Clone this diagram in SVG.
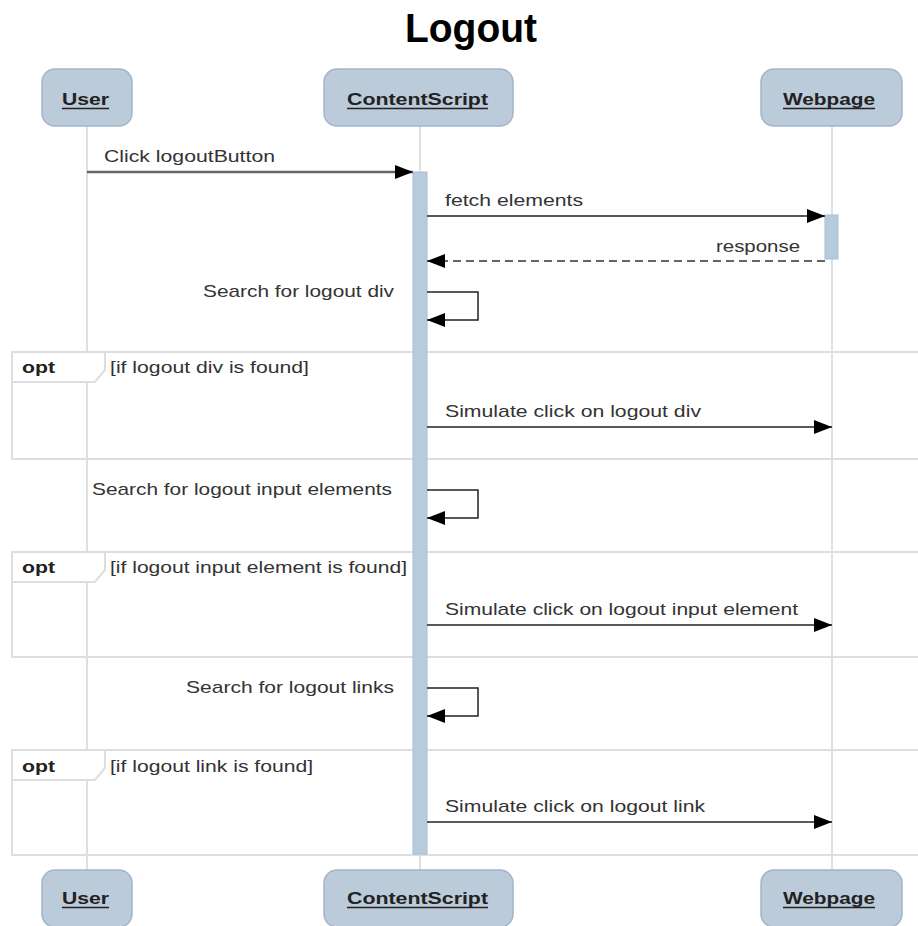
<svg xmlns="http://www.w3.org/2000/svg" width="918" height="926" viewBox="0 0 918 926">
<style>
  .bg { fill: #ffffff; }
  .title { font-family: "Liberation Sans", Arial, sans-serif; font-size: 40px; font-weight: bold; fill: #000; }
  .actor rect { fill: #bccbd9; stroke: #a3b4cc; stroke-width: 1.5; }
  .alabel { font-family: "Liberation Sans", Arial, sans-serif; font-size: 17px; font-weight: bold; fill: #222; }
  .uline { stroke: #222; stroke-width: 1.5; }
  .life { stroke: #e0e0e0; stroke-width: 2; fill: none; }
  .act { fill: #b8cbdc; stroke: #a9bed2; stroke-width: 1; }
  .frame { fill: none; stroke: #dedede; stroke-width: 2; }
  .tab { fill: #ffffff; stroke: #dedede; stroke-width: 2; }
  .optl { font-family: "Liberation Sans", Arial, sans-serif; font-size: 17px; font-weight: bold; fill: #222; }
  .cond { font-family: "Liberation Sans", Arial, sans-serif; font-size: 17px; fill: #333; }
  .msg { stroke: #222; stroke-width: 1.5; fill: none; marker-end: url(#arr); }
  .msg0 { stroke: #666; stroke-width: 2.5; fill: none; marker-end: url(#arr); }
  .ret { stroke: #333; stroke-width: 1.5; fill: none; stroke-dasharray: 8 5; marker-end: url(#arr); }
  .mtext { font-family: "Liberation Sans", Arial, sans-serif; font-size: 17px; fill: #333; }
</style>
<defs>
  <marker id="arr" markerUnits="userSpaceOnUse" markerWidth="18" markerHeight="14" refX="18" refY="7" orient="auto">
    <path d="M0,0 L18,7 L0,14 Z" fill="#000"/>
  </marker>
</defs>
<rect class="bg" x="0" y="0" width="918" height="926"/>
<text class="title" x="405" y="42" textLength="132" lengthAdjust="spacingAndGlyphs">Logout</text>

<g id="lifelines">
  <line class="life" x1="87" y1="126" x2="87" y2="870"/>
  <line class="life" x1="420" y1="126" x2="420" y2="870"/>
  <line class="life" x1="832" y1="126" x2="832" y2="870"/>
</g>

<g id="frame-opt1">
  <rect class="frame" x="12" y="352" width="920" height="107"/>
  <path class="tab" d="M12,352 H105 V370 L95,382 H12 Z"/>
  <text class="optl" x="22" y="373" textLength="33" lengthAdjust="spacingAndGlyphs">opt</text>
  <text class="cond" x="110" y="373" textLength="199" lengthAdjust="spacingAndGlyphs">[if logout div is found]</text>
</g>
<g id="frame-opt2">
  <rect class="frame" x="12" y="552" width="920" height="105"/>
  <path class="tab" d="M12,552 H105 V570 L95,582 H12 Z"/>
  <text class="optl" x="22" y="573" textLength="33" lengthAdjust="spacingAndGlyphs">opt</text>
  <text class="cond" x="110" y="573" textLength="297" lengthAdjust="spacingAndGlyphs">[if logout input element is found]</text>
</g>
<g id="frame-opt3">
  <rect class="frame" x="12" y="750" width="920" height="105"/>
  <path class="tab" d="M12,750 H105 V768 L95,780 H12 Z"/>
  <text class="optl" x="22" y="772" textLength="33" lengthAdjust="spacingAndGlyphs">opt</text>
  <text class="cond" x="110" y="772" textLength="203" lengthAdjust="spacingAndGlyphs">[if logout link is found]</text>
</g>

<g id="activations">
  <rect class="act" x="413" y="172" width="14" height="682"/>
  <rect class="act" x="825" y="215" width="13" height="44"/>
</g>

<g id="user-top" class="actor">
  <rect x="42" y="69" width="90" height="57" rx="13"/>
  <text class="alabel" x="62" y="105" textLength="47" lengthAdjust="spacingAndGlyphs">User</text>
  <line class="uline" x1="62" y1="108.5" x2="109" y2="108.5"/>
</g>
<g id="contentscript-top" class="actor">
  <rect x="324" y="69" width="189" height="57" rx="13"/>
  <text class="alabel" x="347" y="105" textLength="141" lengthAdjust="spacingAndGlyphs">ContentScript</text>
  <line class="uline" x1="347" y1="108.5" x2="488" y2="108.5"/>
</g>
<g id="webpage-top" class="actor">
  <rect x="761" y="69" width="141" height="57" rx="13"/>
  <text class="alabel" x="783" y="105" textLength="92" lengthAdjust="spacingAndGlyphs">Webpage</text>
  <line class="uline" x1="783" y1="108.5" x2="875" y2="108.5"/>
</g>
<g id="user-bottom" class="actor">
  <rect x="42" y="870" width="90" height="57" rx="13"/>
  <text class="alabel" x="62" y="904" textLength="47" lengthAdjust="spacingAndGlyphs">User</text>
  <line class="uline" x1="62" y1="907.5" x2="109" y2="907.5"/>
</g>
<g id="contentscript-bottom" class="actor">
  <rect x="324" y="870" width="189" height="57" rx="13"/>
  <text class="alabel" x="347" y="904" textLength="141" lengthAdjust="spacingAndGlyphs">ContentScript</text>
  <line class="uline" x1="347" y1="907.5" x2="488" y2="907.5"/>
</g>
<g id="webpage-bottom" class="actor">
  <rect x="761" y="870" width="141" height="57" rx="13"/>
  <text class="alabel" x="783" y="904" textLength="92" lengthAdjust="spacingAndGlyphs">Webpage</text>
  <line class="uline" x1="783" y1="907.5" x2="875" y2="907.5"/>
</g>

<g id="connectors">
  <line class="msg0" x1="87" y1="172" x2="413" y2="172"/>
  <text class="mtext" x="104" y="162" textLength="171" lengthAdjust="spacingAndGlyphs">Click logoutButton</text>

  <line class="msg" x1="427" y1="216" x2="825" y2="216"/>
  <text class="mtext" x="445" y="206" textLength="138" lengthAdjust="spacingAndGlyphs">fetch elements</text>

  <line class="ret" x1="825" y1="261" x2="427" y2="261"/>
  <text class="mtext" x="716" y="252" textLength="84" lengthAdjust="spacingAndGlyphs">response</text>

  <path class="msg" d="M427,292 H478 V320 H427"/>
  <text class="mtext" x="203" y="297" textLength="191" lengthAdjust="spacingAndGlyphs">Search for logout div</text>

  <line class="msg" x1="427" y1="427" x2="832" y2="427"/>
  <text class="mtext" x="445" y="417" textLength="256" lengthAdjust="spacingAndGlyphs">Simulate click on logout div</text>

  <path class="msg" d="M427,490 H478 V518 H427"/>
  <text class="mtext" x="92" y="495" textLength="300" lengthAdjust="spacingAndGlyphs">Search for logout input elements</text>

  <line class="msg" x1="427" y1="625" x2="832" y2="625"/>
  <text class="mtext" x="445" y="615" textLength="353" lengthAdjust="spacingAndGlyphs">Simulate click on logout input element</text>

  <path class="msg" d="M427,688 H478 V716 H427"/>
  <text class="mtext" x="186" y="693" textLength="208" lengthAdjust="spacingAndGlyphs">Search for logout links</text>

  <line class="msg" x1="427" y1="822" x2="832" y2="822"/>
  <text class="mtext" x="445" y="812" textLength="260" lengthAdjust="spacingAndGlyphs">Simulate click on logout link</text>
</g>
</svg>
